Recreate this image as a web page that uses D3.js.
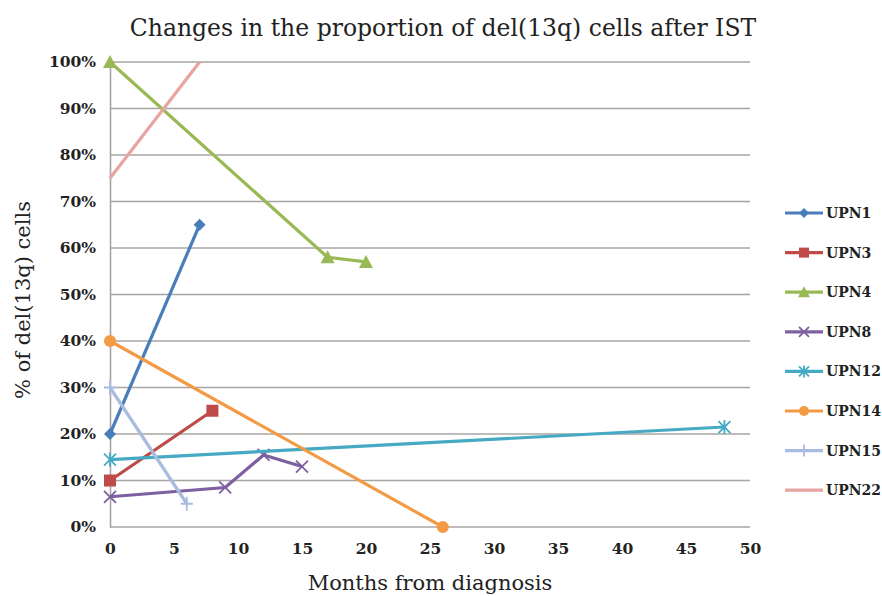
<!DOCTYPE html>
<html>
<head>
<meta charset="utf-8">
<script src="https://cdn.jsdelivr.net/npm/d3@7"></script>
<style>
body { margin: 0; background: #fff; }
text { font-family: "DejaVu Serif", serif; fill: #222; }
</style>
</head>
<body>
<script>
// patients and their follow-up points (months, % del(13q) cells)
var names = ["UPN1", "UPN3", "UPN4", "UPN8", "UPN12", "UPN14", "UPN15", "UPN22"];
var colors = ["#4a7ebb", "#be4b48", "#98b954", "#7d60a0", "#46aac5", "#f39a45", "#a9bbdf", "#e8a4a2"];
var markers = ["diamond", "square", "triangle", "x", "star", "circle", "plus", "none"];
var months = [[0, 7], [0, 8], [0, 17, 20], [0, 9, 12, 15], [0, 48], [0, 26], [0, 6], [0, 7]];
var values = [[20, 65], [10, 25], [100, 58, 57], [6.5, 8.5, 15.5, 13], [14.5, 21.5], [40, 0], [30, 5], [75, 100]];
var xTicks = [0, 5, 10, 15, 20, 25, 30, 35, 40, 45, 50];
var yTicks = [0, 10, 20, 30, 40, 50, 60, 70, 80, 90, 100];

var W = 882, H = 596;
var svg = d3.select("body").append("svg").attr("width", W).attr("height", H);

var x = d3.scaleLinear().domain([0, 50]).range([110, 750]);
var y = d3.scaleLinear().domain([0, 100]).range([527, 62]);

// grid
svg.selectAll(".grid").data(yTicks.slice(1)).enter().append("line")
  .attr("x1", 110).attr("x2", 750)
  .attr("y1", function (d) { return y(d); }).attr("y2", function (d) { return y(d); })
  .attr("stroke", "#a8a4a4").attr("stroke-width", 1.6);

// axes
var ax = svg.append("g").attr("transform", "translate(0,527)")
  .call(d3.axisBottom(x).tickValues(xTicks).tickSize(0).tickPadding(16));
var ay = svg.append("g").attr("transform", "translate(110,0)")
  .call(d3.axisLeft(y).tickValues(yTicks).tickSize(0).tickPadding(14)
    .tickFormat(function (d) { return d + "%"; }));
[ax, ay].forEach(function (g) {
  g.select(".domain").attr("stroke", "#a8a4a4").attr("stroke-width", 1.6);
  g.selectAll("text").style("font-size", "15.5px").style("font-weight", "bold")
    .style("font-family", "DejaVu Serif, serif").attr("fill", "#222");
});
ax.select(".domain").attr("d", "M110,0H750");

function marker(sel, type, color, s) {
  s = s || 6;
  if (type === "diamond") sel.append("path").attr("d", "M0,-" + s + "L" + s + ",0L0," + s + "L-" + s + ",0Z").attr("fill", color);
  if (type === "square") sel.append("rect").attr("x", -s).attr("y", -s).attr("width", 2 * s).attr("height", 2 * s).attr("fill", color);
  if (type === "triangle") sel.append("path").attr("d", "M0,-" + (s + 1) + "L" + (s + 1) + "," + s + "H-" + (s + 1) + "Z").attr("fill", color);
  if (type === "circle") sel.append("circle").attr("r", s).attr("fill", color);
  if (type === "x") sel.append("path").attr("d", "M-" + s + ",-" + s + "L" + s + "," + s + "M-" + s + "," + s + "L" + s + ",-" + s).attr("stroke", color).attr("stroke-width", 1.8);
  if (type === "star") sel.append("path").attr("d", "M-" + s + ",-" + s + "L" + s + "," + s + "M-" + s + "," + s + "L" + s + ",-" + s + "M0,-" + (s + 1) + "V" + (s + 1)).attr("stroke", color).attr("stroke-width", 1.8);
  if (type === "plus") sel.append("path").attr("d", "M-" + s + ",0H" + s + "M0,-" + (s + 1) + "V" + (s + 1)).attr("stroke", color).attr("stroke-width", 1.8);
}

var line = d3.line().x(function (d) { return x(d[0]); }).y(function (d) { return y(d[1]); });

names.forEach(function (n, i) {
  var pts = months[i].map(function (m, j) { return [m, values[i][j]]; });
  svg.append("path").datum(pts).attr("d", line)
    .attr("fill", "none").attr("stroke", colors[i]).attr("stroke-width", 3.2);
  pts.forEach(function (p) {
    var g = svg.append("g").attr("transform", "translate(" + x(p[0]) + "," + y(p[1]) + ")");
    marker(g, markers[i], colors[i]);
  });
});

// legend
var leg = svg.append("g");
names.forEach(function (n, i) {
  var ly = 213 + i * 39.6;
  leg.append("line").attr("x1", 785).attr("x2", 823).attr("y1", ly).attr("y2", ly)
    .attr("stroke", colors[i]).attr("stroke-width", 3.2);
  var g = leg.append("g").attr("transform", "translate(804," + ly + ")");
  marker(g, markers[i], colors[i], 5);
  leg.append("text").attr("x", 826).attr("y", ly + 5).text(n)
    .style("font-size", "14px").style("font-weight", "bold");
});

svg.append("text").attr("x", 443).attr("y", 36).attr("text-anchor", "middle")
  .style("font-size", "23.5px").text("Changes in the proportion of del(13q) cells after IST");
svg.append("text").attr("x", 430).attr("y", 590).attr("text-anchor", "middle")
  .style("font-size", "21px").text("Months from diagnosis");
svg.append("text").attr("transform", "translate(30,300) rotate(-90)").attr("text-anchor", "middle")
  .style("font-size", "21px").text("% of del(13q) cells");
</script>
</body>
</html>
